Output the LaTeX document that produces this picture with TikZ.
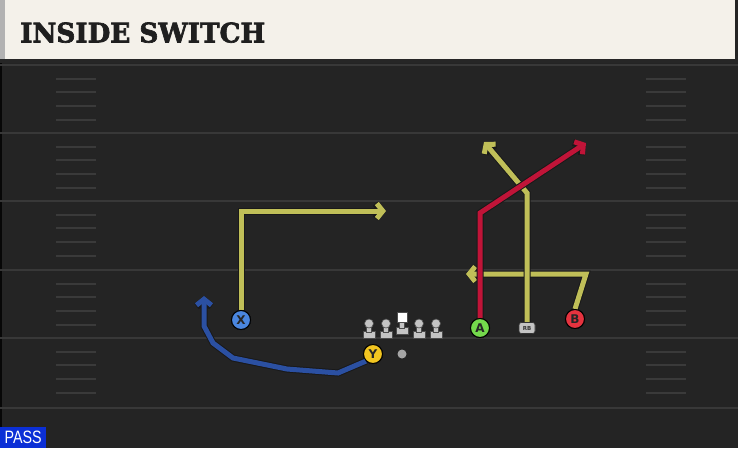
\documentclass[tikz,border=0pt]{standalone}
\usepackage{fontspec}
\usetikzlibrary{arrows.meta}
\newfontfamily\titlefont{DejaVu Serif Bold}[FakeBold=2.5]
\newfontfamily\lblfont{DejaVu Sans}
\newfontfamily\passfont{Liberation Sans}
\definecolor{fieldbg}{HTML}{242424}
\definecolor{yardc}{HTML}{383838}
\definecolor{hashc}{HTML}{3A3A3A}
\definecolor{cream}{HTML}{F4F1EA}
\definecolor{yroutec}{HTML}{C0BF58}
\definecolor{rroutec}{HTML}{C01438}
\definecolor{broutec}{HTML}{2B50A2}
\definecolor{xfill}{HTML}{4A86DF}
\definecolor{yfill}{HTML}{F2C520}
\definecolor{afill}{HTML}{74D94C}
\definecolor{bfill}{HTML}{E6333F}
\definecolor{linec}{HTML}{C4C4C4}
\definecolor{passblue}{HTML}{0B2FD6}
\tikzset{
  yard/.style={draw=yardc,line width=2pt},
  hash/.style={draw=hashc,line width=2pt},
  route/.style={line width=5pt,line join=miter,
    preaction={draw=black!90,line width=7pt}},
  yroute/.style={route,draw=yroutec},
  rroute/.style={route,draw=rroutec},
  broute/.style={route,draw=broutec},
  tip/.style={-{Straight Barb[length=6pt,width=15pt]}},
  player/.style={circle,draw=black,line width=1pt,minimum size=19pt,inner sep=0pt,
    font=\lblfont\bfseries\fontsize{12}{12}\selectfont,text=black!85},
  rbstyle/.style={fill=linec,draw=black!80,line width=0.6pt,rounded corners=2.5pt,minimum width=16pt,minimum height=11pt,inner sep=0pt,
    font=\lblfont\bfseries\fontsize{5.5}{5.5}\selectfont,text=black!80},
  lineman/.style={fill=linec,draw=black!70,line width=0.6pt}
}
\begin{document}
\begin{tikzpicture}[x=1pt,y=-1pt]
\useasboundingbox (0,0) rectangle (738,448);
\fill[fieldbg] (0,0) rectangle (738,448);
\fill[black!80!fieldbg] (0,58) rectangle (2,448);
% yard lines
\foreach \yy in {65,133,201,270,338,408} \draw[yard] (0,\yy) -- (738,\yy);
% hash marks
\foreach \yy in {65,133,201,270,338} {
  \foreach \dd in {14,27,41,55} {
    \draw[hash] (56,\yy+\dd) -- (96,\yy+\dd);
    \draw[hash] (646,\yy+\dd) -- (686,\yy+\dd);
  }
}
% title bar
\fill[black!85] (0,56) rectangle (738,63);
\fill[cream] (0,0) rectangle (735,59);
\fill[black!30] (0,0) rectangle (5,59);
\node[anchor=south west,inner sep=0pt,text=black!88] (title) at (20,43)
  {\resizebox{245pt}{20pt}{\titlefont INSIDE SWITCH}};
% PASS label
\node[anchor=south west,fill=passblue,minimum width=46pt,minimum height=21pt,inner sep=0pt,text=white] (pass) at (0,448)
  {\resizebox{37pt}{12.5pt}{\passfont PASS}};
% linemen
\foreach \lx in {369,386,419,436} {
  \fill[lineman] (\lx-6,331.5) rectangle (\lx+6,338);
  \fill[lineman] (\lx-2.5,325) rectangle (\lx+2.5,332);
  \fill[lineman] (\lx,323.5) circle (4.5);
}
\fill[lineman] (396,327.5) rectangle (408,334);
\fill[lineman] (399.5,321) rectangle (404.5,328);
\fill[white,draw=black!70,line width=0.6pt] (397,312.5) rectangle (407,322);
% players
\node[player,fill=xfill] (X) at (241,320) {X};
\node[player,fill=yfill] (Y) at (373,354) {Y};
\node[player,fill=afill] (A) at (480,328) {A};
\node[player,fill=bfill] (B) at (575,319) {B};
\node[rbstyle] (RB) at (527,328) {RB};
\node[circle,fill=gray!70,inner sep=0pt,minimum size=9pt] (ball) at (402,354) {};
% route coordinates
\coordinate (xc) at (241,211);
\coordinate (xt) at (386,211);
\coordinate (y1) at (338,373);
\coordinate (y2) at (287,369);
\coordinate (y3) at (233,358);
\coordinate (y4) at (213,343);
\coordinate (y5) at (204,326);
\coordinate (yt) at (204,296);
\coordinate (ac) at (480,213);
\coordinate (at) at (586,143);
\coordinate (rc) at (527,193);
\coordinate (rt) at (484,142);
\coordinate (bc) at (586,274);
\coordinate (bt) at (466,274);
% routes
\draw[yroute,tip] (X.north) -- (xc) -- (xt);
\draw[broute,tip] (Y.south west) -- (y1) -- (y2) -- (y3) -- (y4) -- (y5) -- (yt);
\draw[yroute,tip] (B.north) -- (bc) -- (bt);
\draw[yroute,tip] (RB.north) -- (rc) -- (rt);
\draw[rroute,tip] (A.north) -- (ac) -- (at);
% redraw players on top
\node[player,fill=xfill] at (X) {X};
\node[player,fill=yfill] at (Y) {Y};
\node[player,fill=afill] at (A) {A};
\node[player,fill=bfill] at (B) {B};
\node[rbstyle] at (RB) {RB};
\end{tikzpicture}
\end{document}
